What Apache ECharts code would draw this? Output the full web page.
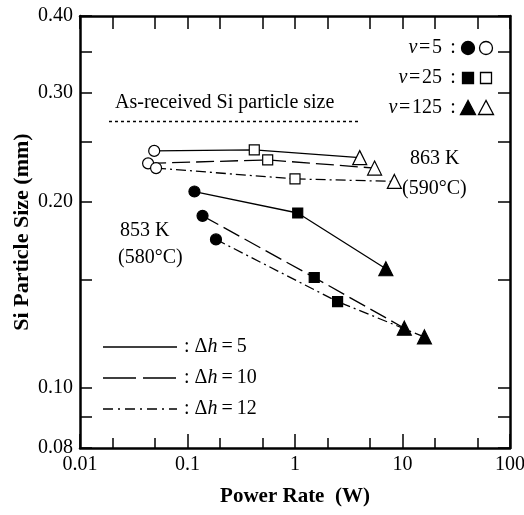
<!DOCTYPE html>
<html>
<head>
<meta charset="utf-8">
<script src="https://cdn.jsdelivr.net/npm/echarts@6/dist/echarts.min.js"></script>
<style>
    html, body {margin: 0; padding: 0; background: #fff;}
    #main {width: 524px; height: 515px;}
</style>
</head>
<body>
<div id="main"></div>
<script>
// [power rate (W), Si particle size (mm)] ; point order: v=5, v=25, v=125
var k863_dh5 = [[0.049, 0.242], [0.418, 0.243], [4.0, 0.236]];
var k863_dh10 = [[0.043, 0.231], [0.557, 0.234], [5.5, 0.227]];
var k863_dh12 = [[0.051, 0.227], [1.0, 0.218], [8.4, 0.216]];
var k853_dh5 = [[0.116, 0.208], [1.06, 0.192], [7.0, 0.156]];
var k853_dh10 = [[0.138, 0.190], [1.51, 0.151], [10.4, 0.125]];
var k853_dh12 = [[0.184, 0.174], [2.49, 0.138], [16.0, 0.121]];

var asReceivedSize = 0.27;
var asReceivedRange = [0.0186, 3.86];

var vSymbols = ['circle', 'rect', 'triangle'];
var vSymbolSizes = [11, 10, 14];

var xMajorTicks = [0.01, 0.1, 1, 10, 100];
var xMinorTicks = [0.02, 0.05, 0.2, 0.5, 2, 5, 20, 50];
var xAllTicks = [0.01, 0.02, 0.05, 0.1, 0.2, 0.5, 1, 2, 5, 10, 20, 50, 100];
var yLabelTicks = [0.08, 0.1, 0.2, 0.3, 0.4];
var yAllTicks = [0.08, 0.09, 0.1, 0.15, 0.2, 0.25, 0.3, 0.35, 0.4];

var serif = "'Liberation Serif', 'DejaVu Serif', serif";
var fs = 20;
var dashLong = [18, 6];
var dashDot = [10, 4, 2, 4];

function makeSeries(name, pts, open, dash) {
    return {
        name: name,
        type: 'line',
        xAxisIndex: 0,
        yAxisIndex: 0,
        z: 3,
        lineStyle: {color: '#000', width: 1.3, type: dash},
        data: pts.map(function (p, i) {
            return {
                value: p,
                symbol: vSymbols[i],
                symbolSize: vSymbolSizes[i],
                itemStyle: {
                    color: open ? '#fff' : '#000',
                    borderColor: '#000',
                    borderWidth: 1.2
                }
            };
        })
    };
}

function xFmt(v) {
    return String(Number(v.toPrecision(3)));
}

var lineStyleAxis = {show: true, lineStyle: {color: '#000', width: 2.5}};
var richItalic = {i: {fontStyle: 'italic', fontSize: fs, fontFamily: serif}};

var legendRows = [
    {y: 347, dash: 'solid', label: '5'},
    {y: 378, dash: [33, 7], label: '10'},
    {y: 409, dash: [10, 5, 2, 5], label: '12'}
];

var graphics = [];
legendRows.forEach(function (r) {
    graphics.push({
        type: 'line',
        shape: {x1: 103, y1: r.y, x2: 177, y2: r.y},
        style: {stroke: '#000', lineWidth: 1.3, lineDash: r.dash === 'solid' ? null : r.dash}
    });
    graphics.push({
        type: 'text', x: 184, y: r.y,
        style: {
            text: ': Δ{i|h}\u2009=\u2009' + r.label,
            font: fs + 'px ' + serif,
            fill: '#000',
            verticalAlign: 'middle',
            rich: richItalic
        }
    });
});

/*右上角 v 图例*/
var vRows = [{y: 48, v: '5'}, {y: 78, v: '25'}, {y: 108, v: '125'}];
vRows.forEach(function (r, i) {
    graphics.push({
        type: 'text', x: 442, y: r.y,
        style: {
            text: '{i|v}\u200a=\u200a' + r.v,
            font: fs + 'px ' + serif,
            fill: '#000',
            align: 'right',
            verticalAlign: 'middle',
            rich: richItalic
        }
    });
    graphics.push({
        type: 'text', x: 453, y: r.y,
        style: {text: ':', font: fs + 'px ' + serif, fill: '#000', align: 'center', verticalAlign: 'middle'}
    });
    [468, 486].forEach(function (cx, j) {
        var st = {fill: j === 0 ? '#000' : '#fff', stroke: '#000', lineWidth: 1.3};
        if (i === 0) {
            graphics.push({type: 'circle', shape: {cx: cx, cy: r.y, r: 6.5}, style: st});
        } else if (i === 1) {
            graphics.push({type: 'rect', shape: {x: cx - 5.5, y: r.y - 5.5, width: 11, height: 11}, style: st});
        } else {
            graphics.push({type: 'polygon', shape: {points: [[cx, r.y - 7.5], [cx - 7.5, r.y + 6.5], [cx + 7.5, r.y + 6.5]]}, style: st});
        }
    });
});

var notes = [
    {x: 115, y: 103, text: 'As-received Si particle size'},
    {x: 410, y: 159, text: '863 K'},
    {x: 402, y: 189, text: '(590°C)'},
    {x: 120, y: 231, text: '853 K'},
    {x: 118, y: 258, text: '(580°C)'}
];
notes.forEach(function (n) {
    graphics.push({
        type: 'text', x: n.x, y: n.y,
        style: {text: n.text, font: fs + 'px ' + serif, fill: '#000', verticalAlign: 'middle'}
    });
});

var option = {
    backgroundColor: '#fff',
    animation: false,
    grid: {left: 80, right: 14, top: 16, bottom: 67, outerBoundsMode: 'none', containLabel: false},
    xAxis: [{
        type: 'log', logBase: 10, min: 0.01, max: 100, position: 'bottom',
        name: 'Power Rate  (W)', nameLocation: 'middle', nameGap: 38,
        nameTextStyle: {fontFamily: serif, fontSize: 21, fontWeight: 'bold', color: '#000'},
        axisLine: lineStyleAxis,
        axisTick: {show: true, inside: true, length: 14, customValues: xMajorTicks, lineStyle: {color: '#000', width: 1.5}},
        axisLabel: {customValues: xMajorTicks, formatter: xFmt, fontFamily: serif, fontSize: fs, color: '#000', margin: 7},
        splitLine: {show: false}
    }, {
        type: 'log', logBase: 10, min: 0.01, max: 100, position: 'bottom',
        axisLine: {show: false},
        axisTick: {show: true, inside: true, length: 10, customValues: xMinorTicks, lineStyle: {color: '#000', width: 1.5}},
        axisLabel: {show: false},
        splitLine: {show: false}
    }, {
        type: 'log', logBase: 10, min: 0.01, max: 100, position: 'top',
        axisLine: lineStyleAxis,
        axisTick: {show: true, inside: true, length: 13, customValues: xAllTicks, lineStyle: {color: '#000', width: 1.5}},
        axisLabel: {show: false},
        splitLine: {show: false}
    }],
    yAxis: [{
        type: 'log', logBase: 10, min: 0.08, max: 0.4, position: 'left',
        name: 'Si Particle Size (mm)', nameLocation: 'middle', nameGap: 47, nameMoveOverlap: false,
        nameTextStyle: {fontFamily: serif, fontSize: 22, fontWeight: 'bold', color: '#000'},
        axisLine: lineStyleAxis,
        axisTick: {show: true, inside: true, length: 12, customValues: yAllTicks, lineStyle: {color: '#000', width: 1.5}},
        axisLabel: {
            customValues: yLabelTicks,
            formatter: function (v) { return v.toFixed(2); },
            fontFamily: serif, fontSize: fs, color: '#000', margin: 7
        },
        splitLine: {show: false}
    }, {
        type: 'log', logBase: 10, min: 0.08, max: 0.4, position: 'right',
        axisLine: lineStyleAxis,
        axisTick: {show: true, inside: true, length: 12, customValues: yAllTicks, lineStyle: {color: '#000', width: 1.5}},
        axisLabel: {show: false},
        splitLine: {show: false}
    }],
    series: [
        {
            name: 'As-received',
            type: 'line',
            symbol: 'none',
            lineStyle: {color: '#000', width: 1.3, type: [3, 3]},
            data: asReceivedRange.map(function (x) { return [x, asReceivedSize]; })
        },
        makeSeries('863K Δh=5', k863_dh5, true, 'solid'),
        makeSeries('863K Δh=10', k863_dh10, true, dashLong),
        makeSeries('863K Δh=12', k863_dh12, true, dashDot),
        makeSeries('853K Δh=5', k853_dh5, false, 'solid'),
        makeSeries('853K Δh=10', k853_dh10, false, dashLong),
        makeSeries('853K Δh=12', k853_dh12, false, dashDot)
    ],
    graphic: graphics
};

var myChart = echarts.init(document.getElementById('main'));
myChart.setOption(option);
</script>
</body>
</html>
